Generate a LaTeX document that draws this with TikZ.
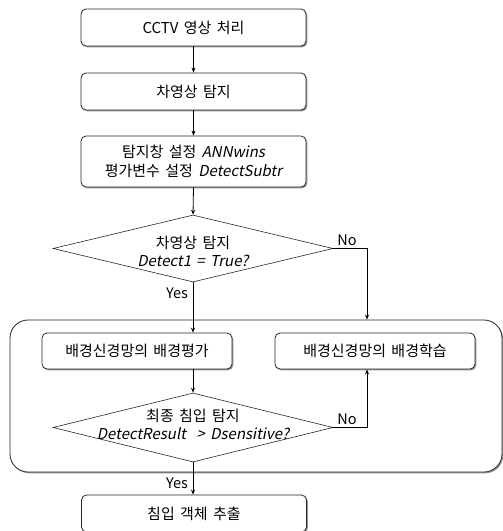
\documentclass[tikz,border=0pt]{standalone}
\usepackage{fontspec}
\setmainfont{Noto Sans CJK KR}[AutoFakeSlant=0.2,WordSpace=1.6]
\usetikzlibrary{shapes.geometric,arrows.meta,shadows}
\begin{document}
\begin{tikzpicture}[x=1pt,y=-1pt,
  shad/.style={drop shadow={shadow xshift=1.3pt, shadow yshift=-1.3pt, fill=black!70, opacity=0.6}},
  box/.style={draw=black!85, rounded corners=5pt, line width=0.8pt, fill=white, minimum width=225pt, inner sep=0pt, align=center, font=\fontsize{15}{19}\selectfont, shad},
  dia/.style={draw=black!85, diamond, aspect=4.18, minimum width=280pt, minimum height=67pt, inner sep=0pt, line width=0.6pt},
  lbl/.style={font=\fontsize{15}{18}\selectfont, align=center, inner sep=0pt},
  arr/.style={-{Stealth[length=5pt,width=4pt]}, line width=0.8pt},
  yn/.style={font=\fontsize{14.5}{15}\selectfont, inner sep=0pt}
]
\useasboundingbox (0,0) rectangle (503,531);
\node[draw=black!85, line width=0.8pt, rounded corners=18pt, minimum width=492pt, minimum height=152pt, fill=white, shad] (c) at (256,396) {};
\node[box, minimum height=37pt] (b1) at (193.5,27.5) {CCTV 영상 처리};
\node[box, minimum height=37pt] (b2) at (193.5,91.5) {차영상 탐지};
\node[box, minimum height=51pt] (b3) at (193.5,161.5) {탐지창 설정 \textit{ANNwins}\\평가변수 설정 \textit{DetectSubtr}};
\node[dia] (d1) at (193,248.5) {};
\node[lbl] (t1) at (193,251) {차영상 탐지\\\textit{Detect1 = True?}};
\node[box, minimum width=190pt, minimum height=36pt] (b4) at (137,351) {배경신경망의 배경평가};
\node[box, minimum width=200pt, minimum height=36pt] (b5) at (375,351) {배경신경망의 배경학습};
\node[dia, minimum height=69pt] (d2) at (193,427.5) {};
\node[lbl] (t2) at (193,424) {최종 침입 탐지\\\textit{DetectResult \ > Dsensitive?}};
\node[box, minimum height=37pt] (b6) at (194,513.5) {침입 객체 추출};
\coordinate (n1) at (367,248.5);
\coordinate (n2) at (367,427.5);
\draw[arr] (b1.south) -- (b2.north);
\draw[arr] (b2.south) -- (b3.north);
\draw[arr] (b3.south) -- (d1.north);
\draw[arr] (d1.east) -- (n1) -- (n1 |- c.north);
\draw[arr] (d1.south) -- (d1.south |- b4.north);
\draw[arr] (b4.south -| d2.north) -- (d2.north);
\draw[arr] (d2.east) -- (n2) -- (n2 |- b5.south);
\draw[arr] (d2.south) -- (d2.south |- b6.north);
\node[yn] (no1) at (347,240) {No};
\node[yn] (yes1) at (177,293) {Yes};
\node[yn] (no2) at (347,419) {No};
\node[yn] (yes2) at (177,483) {Yes};
\end{tikzpicture}
\end{document}
